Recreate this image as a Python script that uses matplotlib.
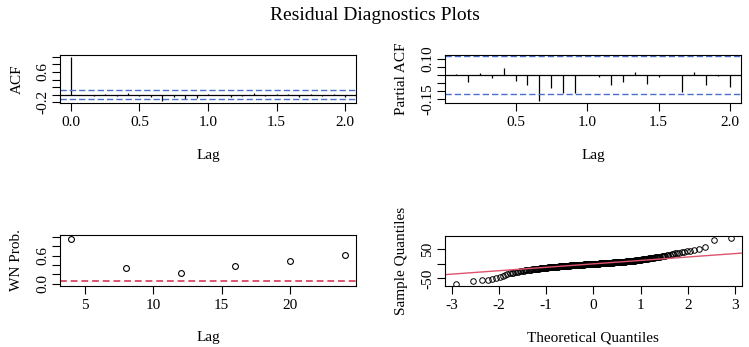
import numpy as np
import matplotlib
matplotlib.use("Agg")
import matplotlib.pyplot as plt
from statistics import NormalDist

plt.rcParams['font.family'] = ['Liberation Serif', 'DejaVu Serif']

# ---------------- data ----------------
acf_lags = [k / 12 for k in range(0, 25)]
acf_vals = [1.0, 0.005, -0.04, 0.01, -0.02, 0.045, -0.035, -0.06, -0.17, -0.07,
            -0.10, -0.09, 0.01, 0.005, -0.05, -0.03, 0.05, -0.04, 0.03, 0.02,
            -0.06, 0.03, -0.02, 0.01, -0.05]
pacf_lags = [k / 12 for k in range(1, 25)]
pacf_vals = [0.006, -0.043, 0.01, -0.018, 0.046, -0.037, -0.064, -0.163, -0.083, -0.113,
             -0.109, 0.0, -0.012, -0.06, -0.046, 0.02, -0.054, -0.015, 0.003, -0.104,
             0.021, -0.06, -0.005, -0.076]
ci_level = 0.115

wn_lags = [4, 8, 12, 16, 20, 24]
wn_prob = [0.95, 0.34, 0.24, 0.39, 0.48, 0.62]
wn_sig = 0.05

residuals = [
    -69.0, -59.1, -56.4, -55.0, -51.8, -47.5, -43.9, -40.2, -37.0, -34.0,
    -32.1, -31.0, -29.9, -28.6, -27.2, -26.4, -25.6, -24.8, -23.8, -23.1,
    -22.4, -21.8, -21.4, -20.7, -20.3, -19.9, -19.4, -18.8, -18.3, -17.9,
    -17.4, -17.0, -16.6, -16.2, -16.0, -15.7, -15.3, -15.1, -14.7, -14.5,
    -14.2, -14.0, -13.6, -13.4, -13.0, -12.8, -12.4, -12.2, -12.1, -11.7,
    -11.5, -11.3, -11.0, -10.8, -10.7, -10.3, -10.2, -10.0, -9.9, -9.5,
    -9.5, -9.35, -9.2, -9.05, -8.75, -8.6, -8.45, -8.3, -8.15, -7.85,
    -7.7, -7.6, -7.4, -7.3, -7.1, -7.0, -6.9, -6.7, -6.6, -6.4,
    -6.3, -6.2, -6.0, -5.9, -5.8, -5.6, -5.5, -5.4, -5.3, -5.1,
    -4.9, -4.8, -4.7, -4.5, -4.4, -4.3, -4.2, -4.0, -3.9, -3.8,
    -3.7, -3.6, -3.5, -3.4, -3.3, -3.2, -3.1, -3.0, -2.9, -2.8,
    -2.7, -2.6, -2.5, -2.4, -2.3, -2.2, -2.1, -2.0, -1.9, -1.7,
    -1.6, -1.5, -1.4, -1.3, -1.2, -1.2, -1.1, -1.0, -0.9, -0.8,
    -0.7, -0.6, -0.5, -0.4, -0.3, -0.2, -0.1, 0.0,
    0.1, 0.2, 0.3, 0.4, 0.5, 0.6, 0.7, 0.8,
    0.9, 1.0, 1.1, 1.2, 1.2, 1.3, 1.4, 1.5, 1.6, 1.7,
    1.9, 2.0, 2.1, 2.2, 2.3, 2.4, 2.5, 2.6, 2.7, 2.8,
    2.9, 3.0, 3.1, 3.2, 3.3, 3.4, 3.5, 3.6, 3.7, 3.8,
    3.9, 4.0, 4.2, 4.3, 4.4, 4.5, 4.7, 4.8, 4.9, 5.0,
    5.2, 5.3, 5.4, 5.5, 5.7, 5.8, 5.9, 6.1, 6.2, 6.3,
    6.5, 6.6, 6.7, 6.9, 7.0, 7.2, 7.3, 7.5, 7.6, 7.8,
    8.0, 8.2, 8.3, 8.5, 8.7, 8.9, 9.1, 9.3, 9.5, 9.7,
    10.0, 10.2, 10.4, 10.6, 10.9, 11.1, 11.4, 11.6, 11.9, 12.2,
    12.5, 12.8, 13.1, 13.4, 13.7, 14.0, 14.4, 14.8, 15.2, 15.6,
    16.0, 16.4, 16.9, 17.3, 17.8, 18.2, 18.7, 19.1, 19.6, 20.1,
    20.6, 21.2, 21.8, 22.4, 23.0, 23.6, 24.2, 24.8, 25.4, 26.0,
    27.0, 27.9, 28.9, 29.9, 31.0, 32.1, 33.3, 34.6, 35.9, 37.4,
    38.8, 40.3, 42.1, 43.6, 45.2, 48.4, 50.1, 58.3, 84.2, 91.0,
]

acf_yticks = [-0.2, 0.0, 0.2, 0.4, 0.6, 0.8, 1.0]
acf_yticklabels = ['-0.2', '', '', '', '0.6', '', '']
pacf_yticks = [-0.15, -0.10, -0.05, 0.0, 0.05, 0.10]
pacf_yticklabels = ['-0.15', '', '', '', '', '0.10']
wn_yticks = [0.0, 0.2, 0.4, 0.6, 0.8, 1.0]
wn_yticklabels = ['0.0', '', '', '0.6', '', '']
qq_yticks = [-50, 0, 50]
qq_yticklabels = ['-50', '', '50']

BLUE = '#4a6fcf'
RED = '#DF536B'
FS = 11

# ---------------- helpers ----------------
def rlim(vals):
    lo, hi = min(vals), max(vals)
    r = hi - lo
    return lo - 0.04 * r, hi + 0.04 * r

def style(ax):
    for s in ax.spines.values():
        s.set_linewidth(0.8)
        s.set_color('black')
    ax.tick_params(direction='out', length=5.5, width=0.8, labelsize=FS, pad=4.0,
                   colors='black')
    ax.tick_params(axis='y', pad=2.5)
    for lab in ax.get_yticklabels():
        lab.set_rotation(90)
        lab.set_va('center')

fig = plt.figure(figsize=(7.49, 3.47), dpi=100)
W, H = 749, 347
def rect(x0, y0, x1, y1):
    return [x0 / W, 1 - y1 / H, (x1 - x0) / W, (y1 - y0) / H]

# ---------------- ACF ----------------
ax1 = fig.add_axes(rect(60, 55, 356, 103))
ax1.vlines(acf_lags, 0, acf_vals, color='black', lw=0.9)
ax1.axhline(0, color='black', lw=0.9)
for c in (ci_level, -ci_level):
    ax1.axhline(c, color=BLUE, lw=1.0, ls=(0, (4.5, 2.2)))
ax1.set_xlim(*rlim(acf_lags))
ax1.set_ylim(*rlim(acf_vals + [-ci_level, ci_level]))
ax1.set_xticks([0.0, 0.5, 1.0, 1.5, 2.0])
ax1.set_xticklabels(['0.0', '0.5', '1.0', '1.5', '2.0'])
ax1.set_yticks(acf_yticks)
ax1.set_yticklabels(acf_yticklabels)
ax1.set_xlabel('Lag', fontsize=FS, labelpad=14)
ax1.set_ylabel('ACF', fontsize=FS, labelpad=9)
style(ax1)

# ---------------- PACF ----------------
ax2 = fig.add_axes(rect(445, 54.5, 741, 103.3))
ax2.vlines(pacf_lags, 0, pacf_vals, color='black', lw=0.9)
ax2.axhline(0, color='black', lw=0.9)
for c in (ci_level, -ci_level):
    ax2.axhline(c, color=BLUE, lw=1.0, ls=(0, (4.5, 2.2)))
ax2.set_xlim(*rlim(pacf_lags))
ax2.set_ylim(*rlim(pacf_vals + [-ci_level, ci_level]))
ax2.set_xticks([0.5, 1.0, 1.5, 2.0])
ax2.set_xticklabels(['0.5', '1.0', '1.5', '2.0'])
ax2.set_yticks(pacf_yticks)
ax2.set_yticklabels(pacf_yticklabels)
ax2.set_xlabel('Lag', fontsize=FS, labelpad=14)
ax2.set_ylabel('Partial ACF', fontsize=FS, labelpad=9)
style(ax2)

# ---------------- WN prob ----------------
ax3 = fig.add_axes(rect(60, 235, 356, 285.7))
ax3.plot(wn_lags, wn_prob, 'o', mfc='none', mec='black', ms=4.2, mew=0.8)
ax3.axhline(wn_sig, color=RED, lw=1.4, ls=(0, (3.5, 2)))
ax3.set_xlim(*rlim(wn_lags))
ax3.set_ylim(*rlim([0.0, 1.0]))
ax3.set_xticks([5, 10, 15, 20])
ax3.set_yticks(wn_yticks)
ax3.set_yticklabels(wn_yticklabels)
ax3.set_xlabel('Lag', fontsize=FS, labelpad=14)
ax3.set_ylabel('WN Prob.', fontsize=FS, labelpad=9)
style(ax3)

# ---------------- QQ ----------------
ax4 = fig.add_axes(rect(445, 235.7, 741.7, 285.7))
res = np.sort(np.array(residuals))
n = len(res)
nd = NormalDist()
theo = np.array([nd.inv_cdf((i - 0.5) / n) for i in range(1, n + 1)])
ax4.plot(theo, res, 'o', mfc='none', mec='black', ms=4.0, mew=0.7)
q1, q3 = np.quantile(res, [0.25, 0.75])
z1, z3 = nd.inv_cdf(0.25), nd.inv_cdf(0.75)
slope = (q3 - q1) / (z3 - z1)
ax4.axline((z1, q1), slope=slope, color=RED, lw=1.0)
ax4.set_xlim(*rlim(list(theo)))
ax4.set_ylim(*rlim(list(res)))
ax4.set_xticks([-3, -2, -1, 0, 1, 2, 3])
ax4.set_xticklabels(['-3', '-2', '-1', '0', '1', '2', '3'])
ax4.set_yticks(qq_yticks)
ax4.set_yticklabels(qq_yticklabels)
ax4.set_xlabel('Theoretical Quantiles', fontsize=FS, labelpad=14)
ax4.set_ylabel('Sample Quantiles', fontsize=FS, labelpad=9)
style(ax4)

fig.text(0.5, 1 - 15 / H, 'Residual Diagnostics Plots', ha='center', va='center', fontsize=14)

fig.savefig('out.png', dpi=100)
